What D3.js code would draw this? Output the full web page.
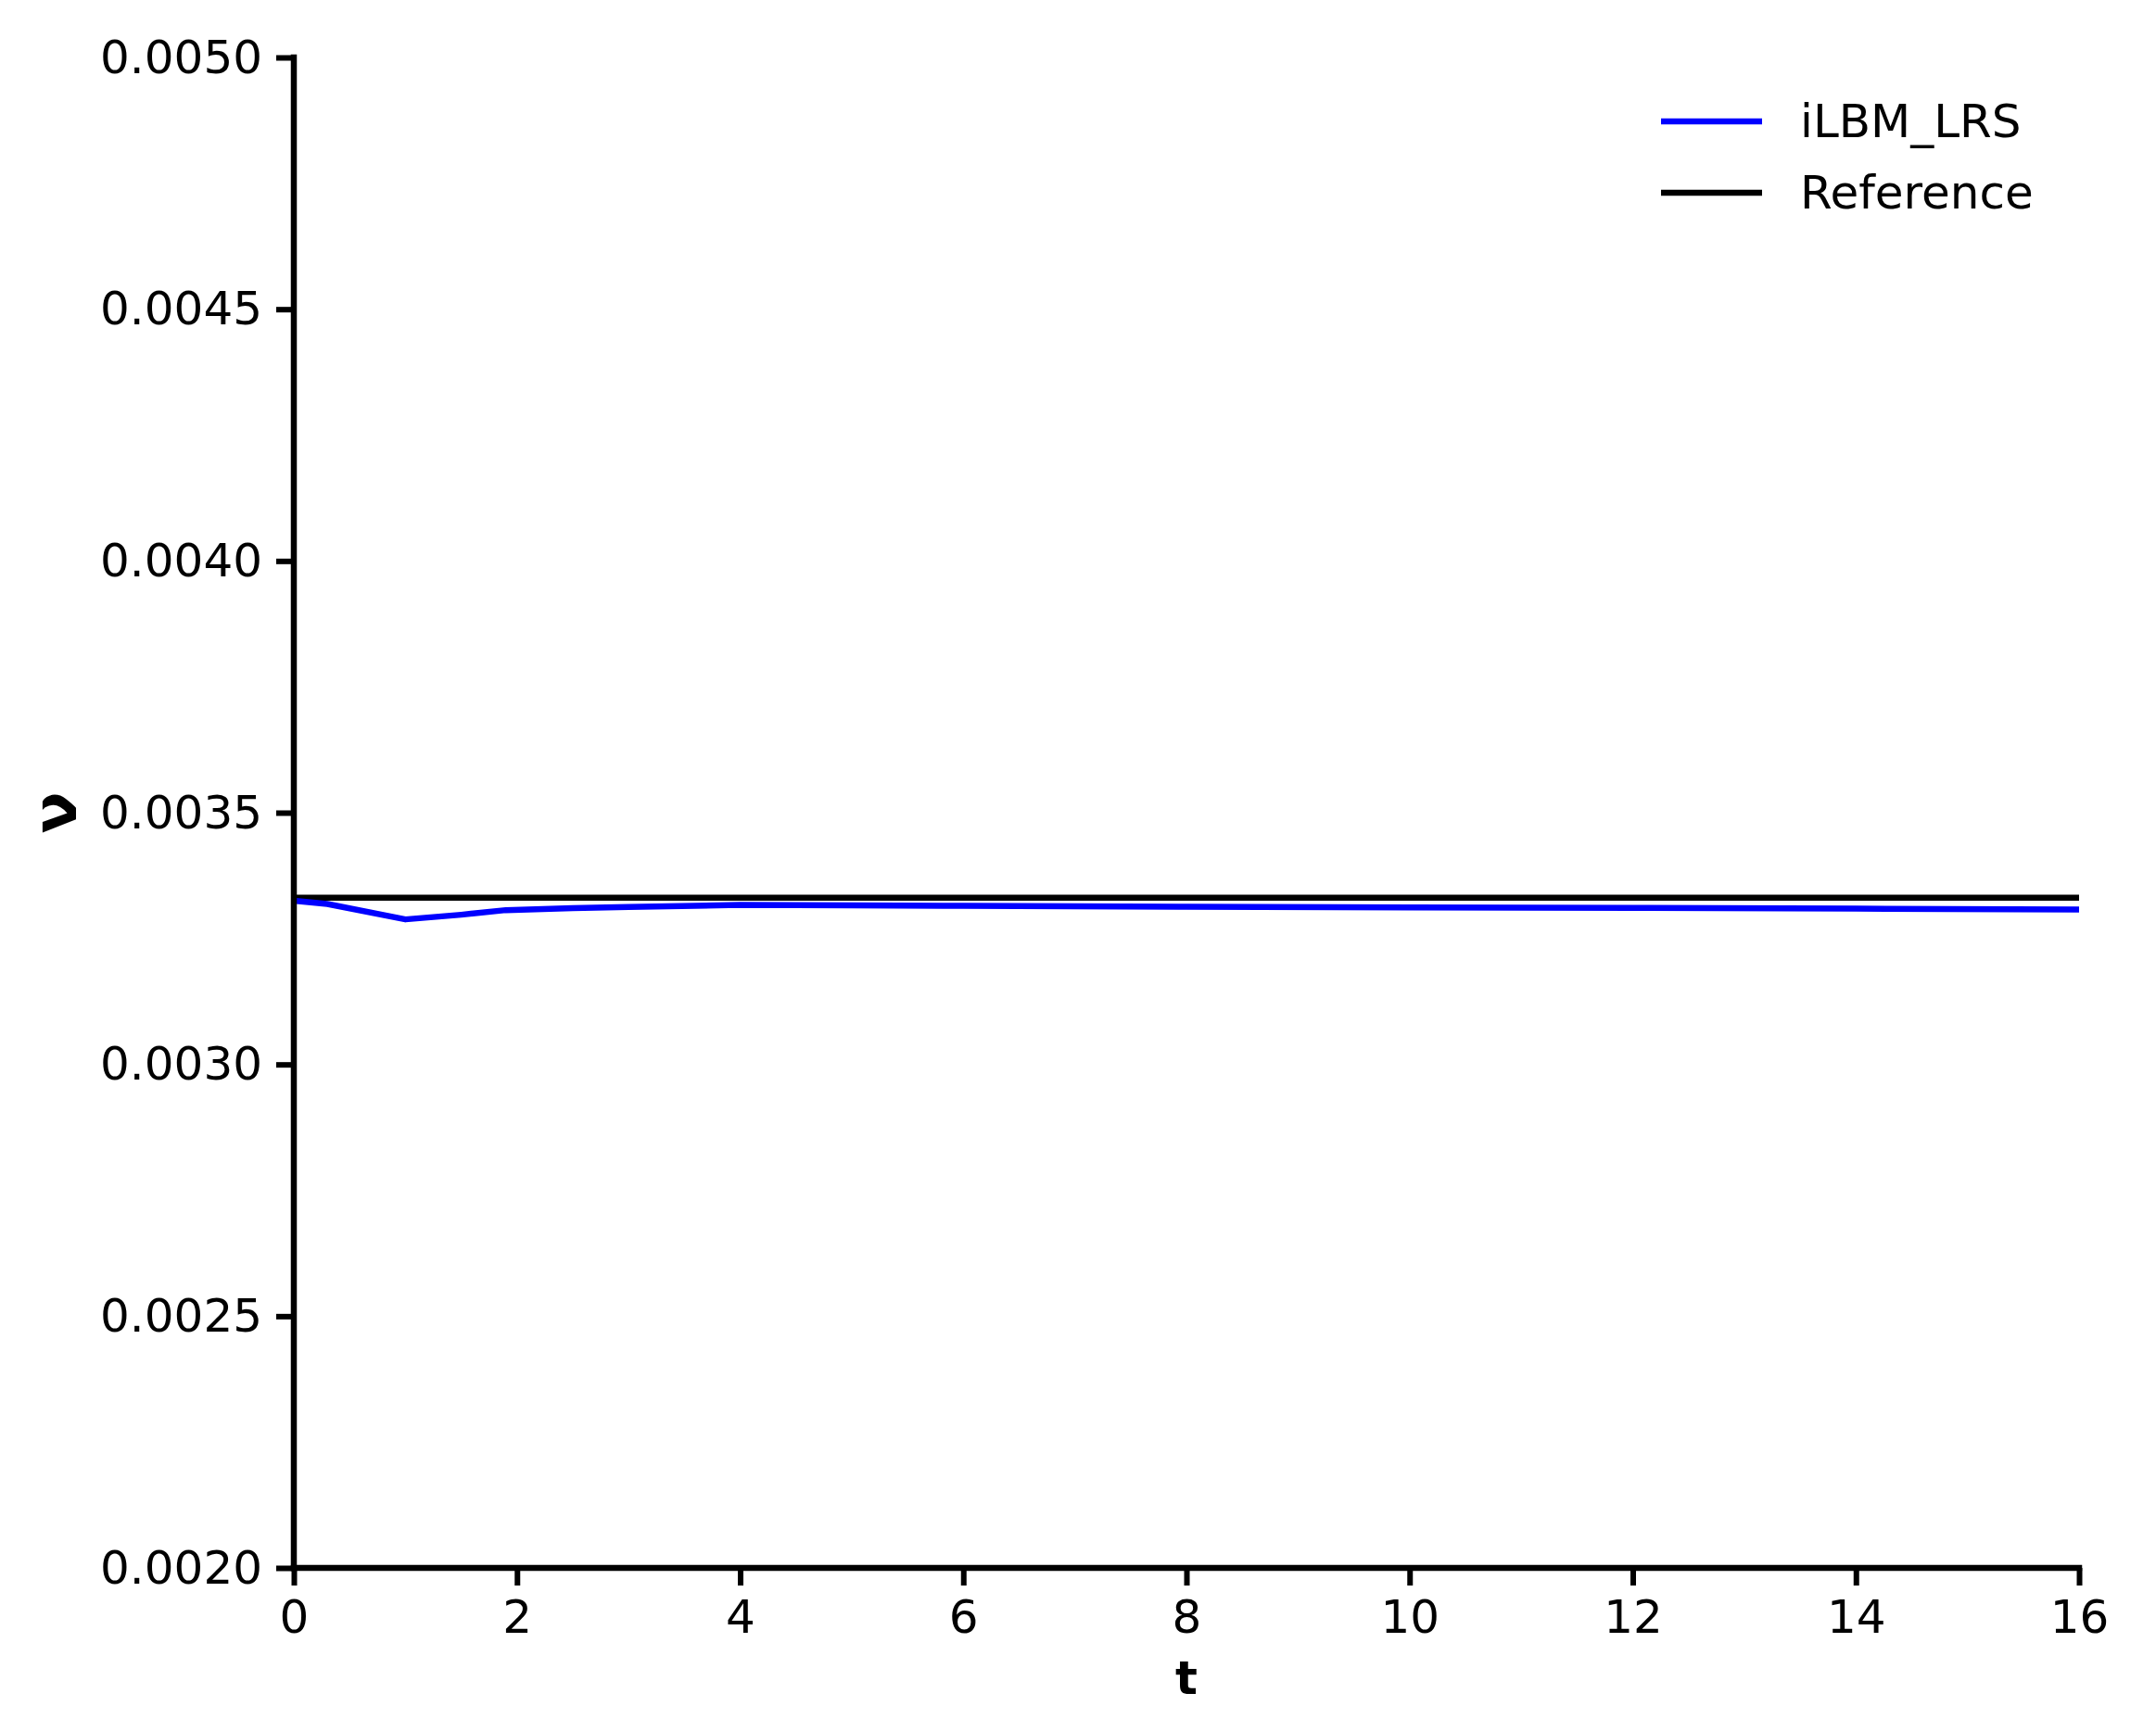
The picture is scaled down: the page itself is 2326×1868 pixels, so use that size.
<!DOCTYPE html>
<html>
<head>
<meta charset="utf-8">
<script src="https://cdn.jsdelivr.net/npm/d3@7"></script>
<style>
  html, body { margin: 0; padding: 0; background: #fff; }
  svg { display: block; }
  text { font-family: "DejaVu Sans", sans-serif; }
</style>
</head>
<body>
<svg id="chart" width="2326" height="1868"></svg>
<script>
// ---- data ----
const tValues = [0, 0.3, 1.0, 1.5, 1.9, 2.5, 3.0, 4.0, 5.0, 6.0, 8.0, 10.0, 12.0, 14.0, 16.0];
const ilbmValues = [0.003325, 0.0033186, 0.0032881, 0.0032973, 0.0033065, 0.0033105, 0.0033126, 0.0033168, 0.003316, 0.003315, 0.003313, 0.003312, 0.003311, 0.0033095, 0.0033076];
const referenceT = [0, 16];
const referenceValues = [0.003331, 0.003331];
const xTicks = [0, 2, 4, 6, 8, 10, 12, 14, 16];
const yTicks = [0.0020, 0.0025, 0.0030, 0.0035, 0.0040, 0.0045, 0.0050];
const seriesNames = ["iLBM_LRS", "Reference"];
const seriesColors = ["#0000ff", "#000000"];

// ---- layout ----
const plotLeft = 317, plotRight = 2243, plotTop = 62, plotBottom = 1692;
const svg = d3.select("#chart");

const x = d3.scaleLinear().domain([0, 16]).range([plotLeft, plotRight]);
const y = d3.scaleLinear().domain([0.0020, 0.0050]).range([plotBottom, plotTop]);

// lines
const line = d3.line().x(d => x(d[0])).y(d => y(d[1]));
const ilbmData = tValues.map((t, i) => [t, ilbmValues[i]]);
const refData = referenceT.map((t, i) => [t, referenceValues[i]]);

svg.append("path").datum(refData)
  .attr("d", line).attr("fill", "none")
  .attr("stroke", seriesColors[1]).attr("stroke-width", 6.5);
svg.append("path").datum(ilbmData)
  .attr("d", line).attr("fill", "none")
  .attr("stroke", seriesColors[0]).attr("stroke-width", 6.5)
  .attr("stroke-linejoin", "round");

// axes
const yAxis = d3.axisLeft(y).tickValues(yTicks).tickFormat(d3.format(".4f"))
  .tickSize(19).tickPadding(15);
const xAxis = d3.axisBottom(x).tickValues(xTicks).tickFormat(d3.format("d"))
  .tickSize(19).tickPadding(15);

const gy = svg.append("g").attr("transform", `translate(${plotLeft},0)`).call(yAxis);
const gx = svg.append("g").attr("transform", `translate(0,${plotBottom})`).call(xAxis);

[gx, gy].forEach(g => {
  g.select(".domain").attr("stroke", "#000").attr("stroke-width", 6.5)
    .attr("stroke-linecap", "square");
  g.selectAll(".tick line").attr("stroke", "#000").attr("stroke-width", 6);
  g.selectAll(".tick text").attr("fill", "#000")
    .style("font-family", "'DejaVu Sans', sans-serif").style("font-size", "50px");
});
gy.select(".domain").attr("d", `M0,${plotBottom}V${plotTop}`);
gx.select(".domain").attr("d", `M${plotLeft},0H${plotRight}`);

// axis labels
svg.append("text")
  .attr("x", (plotLeft + plotRight) / 2).attr("y", 1828)
  .attr("text-anchor", "middle")
  .style("font-size", "50px").style("font-weight", "bold")
  .text("t");
svg.append("text")
  .attr("transform", `translate(82,${(plotTop + plotBottom) / 2}) rotate(-90)`)
  .attr("text-anchor", "middle")
  .style("font-size", "66px").style("font-weight", "bold")
  .text("ν");

// legend
const legendY = [131, 208];
seriesNames.forEach((name, i) => {
  svg.append("line")
    .attr("x1", 1792).attr("x2", 1901)
    .attr("y1", legendY[i]).attr("y2", legendY[i])
    .attr("stroke", seriesColors[i]).attr("stroke-width", 6.5);
  svg.append("text")
    .attr("x", 1942).attr("y", legendY[i] + 17)
    .style("font-size", "50px")
    .text(name);
});
</script>
</body>
</html>
